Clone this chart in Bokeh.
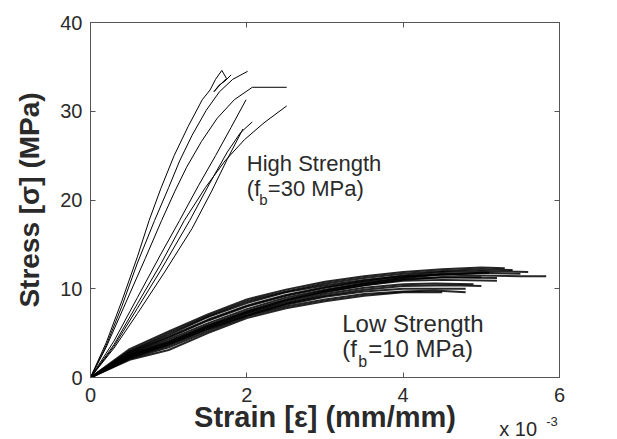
import math
from bokeh.plotting import figure
from bokeh.models import Range1d, LinearAxis, FixedTicker, Label
from bokeh.embed import file_html
from bokeh.resources import INLINE

# ---- data (strain in 1e-3 mm/mm, stress in MPa) ----
high_x = [
    [0, 0.2, 0.4, 0.6, 0.75, 0.9, 1.07, 1.25, 1.43, 1.53, 1.6, 1.68, 1.74, 1.66, 1.58, 1.64, 1.72, 1.8],
    [0, 0.2, 0.4, 0.6, 0.82, 1.0, 1.14, 1.3, 1.48, 1.65, 1.82, 2.01],
    [0, 0.2, 0.45, 0.7, 0.91, 1.08, 1.23, 1.42, 1.62, 1.84, 2.07, 2.51],
    [0, 0.3, 0.6, 0.9, 1.14, 1.38, 1.6, 1.8, 1.99],
    [0, 0.3, 0.6, 0.9, 1.2, 1.47, 1.72, 1.97, 2.22, 2.51],
    [0, 0.3, 0.6, 0.9, 1.27, 1.52, 1.75, 1.92, 2.07],
    [0, 0.3, 0.6, 0.95, 1.3, 1.55, 1.75, 1.95],
]
high_y = [
    [0, 3.9, 8.6, 13.6, 17.7, 21.3, 25.0, 28.3, 31.3, 32.4, 33.6, 34.6, 33.7, 33.0, 32.2, 32.9, 33.4, 34.1],
    [0, 3.6, 8.0, 12.9, 17.7, 21.4, 24.4, 27.3, 30.1, 32.2, 33.6, 34.5],
    [0, 3.4, 8.4, 13.4, 17.7, 21.0, 23.7, 26.6, 29.2, 31.3, 32.7, 32.7],
    [0, 4.1, 9.0, 13.9, 17.7, 21.6, 25.0, 28.2, 31.3],
    [0, 3.7, 8.3, 12.8, 17.7, 21.4, 24.4, 26.8, 28.7, 30.6],
    [0, 3.5, 7.8, 12.1, 17.7, 21.8, 25.4, 27.6, 28.8],
    [0, 3.3, 7.2, 11.9, 16.8, 21.0, 24.6, 28.0],
]

low_x = [
    [0, 0.5, 1, 1.5, 2, 2.5, 3, 3.5, 4, 4.5, 5, 5.3],
    [0, 0.5, 1, 1.5, 2, 2.5, 3, 3.5, 4, 4.5, 5, 5.5, 5.83],
    [0, 0.5, 1, 1.5, 2, 2.5, 3, 3.5, 4, 4.5, 5, 5.6],
    [0, 0.5, 1, 1.5, 2, 2.5, 3, 3.5, 4, 4.5, 5.2],
    [0, 0.5, 1, 1.5, 2, 2.5, 3, 3.5, 4, 4.5, 5, 5.5],
    [0, 0.5, 1, 1.5, 2, 2.5, 3, 3.5, 4, 4.4, 4.9],
    [0, 0.5, 1, 1.5, 2, 2.5, 3, 3.5, 4, 4.5, 5],
    [0, 0.5, 1, 1.5, 2, 2.5, 3, 3.5, 4, 4.8],
    [0, 0.5, 1, 1.5, 2, 2.5, 3, 3.5, 4, 4.4, 4.8],
    [0, 0.5, 1, 1.5, 2, 2.5, 3, 3.5, 4, 4.5],
    [0, 0.5, 1, 1.5, 2, 2.5, 3, 3.5, 4, 4.5, 5.1],
    [0, 0.5, 1, 1.5, 2, 2.5, 3, 3.5, 4, 4.5, 5, 5.4],
    [0, 0.5, 1, 1.5, 2, 2.5, 3, 3.5, 4, 4.6, 5.0],
    [0, 0.5, 1, 1.5, 2, 2.5, 3, 3.5, 4, 4.5, 5.2],
]
low_y = [
    [0, 3.2, 5.2, 7.1, 8.8, 9.9, 10.8, 11.4, 11.9, 12.2, 12.4, 12.3],
    [0, 2.9, 4.8, 6.8, 8.4, 9.6, 10.4, 11.0, 11.4, 11.6, 11.5, 11.4, 11.4],
    [0, 2.8, 4.6, 6.5, 8.1, 9.3, 10.2, 10.9, 11.5, 11.9, 12.0, 11.9],
    [0, 2.6, 4.3, 6.1, 7.7, 9.0, 9.9, 10.6, 11.1, 11.3, 11.2],
    [0, 2.5, 4.1, 5.9, 7.5, 8.8, 9.8, 10.6, 11.2, 11.6, 11.8, 11.7],
    [0, 2.3, 3.8, 5.6, 7.2, 8.4, 9.4, 10.1, 10.5, 10.6, 10.5],
    [0, 2.4, 3.9, 5.7, 7.3, 8.6, 9.6, 10.4, 11.0, 11.3, 11.3],
    [0, 2.2, 3.6, 5.4, 7.0, 8.2, 9.1, 9.7, 10.0, 10.0],
    [0, 2.1, 3.4, 5.2, 6.9, 8.0, 8.8, 9.4, 9.7, 9.8, 9.6],
    [0, 2.0, 3.1, 5.0, 6.7, 7.8, 8.6, 9.2, 9.6, 9.6],
    [0, 2.7, 4.5, 6.4, 8.0, 9.2, 10.1, 10.8, 11.3, 11.7, 11.8],
    [0, 3.0, 5.0, 6.9, 8.6, 9.7, 10.6, 11.2, 11.7, 12.0, 12.2, 12.1],
    [0, 2.3, 3.7, 5.5, 7.0, 8.3, 9.2, 9.9, 10.3, 10.4, 10.3],
    [0, 2.5, 4.0, 5.8, 7.4, 8.7, 9.7, 10.4, 10.9, 11.0, 10.9],
]

x_ticks = [0, 2, 4, 6]
y_ticks = [0, 10, 20, 30, 40]

FONT = "Liberation Sans"
AXC = "#555555"
TXC = "#2a2a2a"

p = figure(width=616, height=439, output_backend="svg", toolbar_location=None,
           x_range=Range1d(0, 6), y_range=Range1d(0, 40),
           min_border_left=90, min_border_right=57, min_border_top=22, min_border_bottom=62)
p.grid.visible = False
p.outline_line_color = AXC
p.outline_line_width = 1
p.background_fill_color = "white"
p.border_fill_color = "white"

for ax, tk in ((p.xaxis[0], x_ticks), (p.yaxis[0], y_ticks)):
    ax.ticker = FixedTicker(ticks=tk)
    ax.minor_tick_line_color = None
    ax.major_tick_in = 5
    ax.major_tick_out = 0
    ax.axis_line_color = AXC
    ax.major_tick_line_color = AXC
    ax.major_label_text_font = FONT
    ax.major_label_text_font_size = "20px"
    ax.major_label_text_color = TXC
    ax.axis_label_text_font = FONT
    ax.axis_label_text_font_style = "bold"
    ax.axis_label_text_font_size = "28px"
    ax.axis_label_text_color = TXC

p.xaxis.major_label_standoff = 10
p.xaxis.axis_label = "Strain [\u03b5] (mm/mm)"
p.xaxis.axis_label_text_font_size = "29px"
p.xaxis.axis_label_standoff = -4
p.yaxis.major_label_standoff = 8
p.yaxis.axis_label = "Stress [\u03c3] (MPa)"
p.yaxis.axis_label_standoff = 12

for loc, tk in (("above", x_ticks), ("right", y_ticks)):
    ax = LinearAxis(ticker=FixedTicker(ticks=tk))
    ax.minor_tick_line_color = None
    ax.major_tick_in = 5
    ax.major_tick_out = 0
    ax.axis_line_color = AXC
    ax.major_tick_line_color = AXC
    ax.major_label_text_font_size = "0px"
    ax.major_label_standoff = 0
    p.add_layout(ax, loc)

for xs, ys in zip(low_x, low_y):
    p.line(xs, ys, line_color="black", line_width=2.0, line_alpha=0.85)
for xs, ys in zip(high_x, high_y):
    p.line(xs, ys, line_color="black", line_width=1.0)

def lab(txt, x, y, size, xo=0, place=None):
    l = Label(x=x, y=y, x_offset=xo, text=txt, text_font=FONT,
              text_font_size=size, text_color=TXC,
              text_align="left", text_baseline="alphabetic")
    if place:
        p.add_layout(l, place)
    else:
        p.add_layout(l)

# annotations
lab("High Strength", 2.0, 24.1, "22px")
lab("(f", 2.0, 21.3, "22px")
lab("b", 2.0, 20.1, "15px", xo=12.5)
lab("=30 MPa)", 2.0, 21.3, "22px", xo=21)

lab("Low Strength", 3.22, 6.08, "24px")
lab("(f", 3.22, 3.27, "24px")
lab("b", 3.22, 1.85, "16px", xo=16)
lab("=10 MPa)", 3.22, 3.27, "24px", xo=26)

# axis exponent, placed in the right-hand side panel so it is not clipped
lab("x 10", 5.23, -5.75, "20px", place="right")
lab("-3", 5.83, -5.0, "13px", place="right")

open("out.html", "w").write(file_html(p, INLINE))
